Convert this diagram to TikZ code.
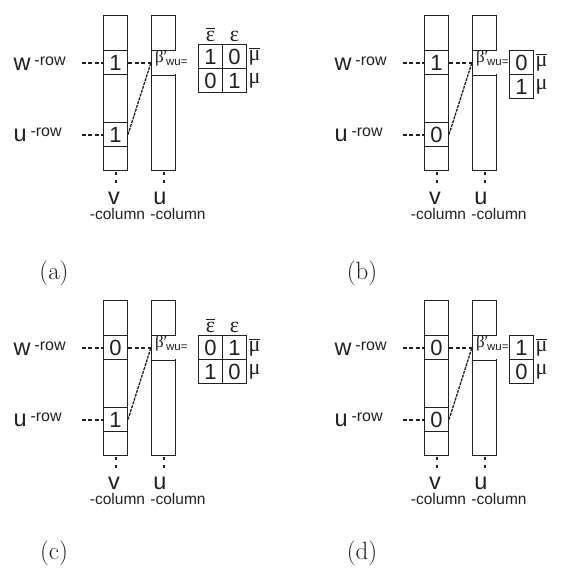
\documentclass[tikz,border=0pt]{standalone}
\usepackage{fontspec}
\newfontfamily\sansf{Liberation Sans}
\newfontfamily\grkf{Liberation Serif}
\usetikzlibrary{calc}
\definecolor{fg}{RGB}{35,31,32}
\newcommand{\letterfont}{\sansf\fontsize{23.5}{26}\selectfont}
\newcommand{\suffont}{\sansf\fontsize{16}{18}\selectfont}
\newcommand{\colfont}{\sansf\fontsize{15.5}{17}\selectfont}
\newcommand{\digfont}{\sansf\fontsize{22}{24}\selectfont}
\newcommand{\grkfont}{\grkf\fontsize{22}{24}\selectfont}
\newcommand{\capfont}{\fontsize{25}{27}\selectfont}
\newcommand{\barred}[1]{\vbox{\hrule height 1.1pt\kern 2pt\hbox{#1}}}
\tikzset{
  every picture/.style={fg, line width=1pt},
  % Spalten und Zellen
  colbox/.style={draw, rectangle, inner sep=0pt, minimum width=24pt, minimum height=155pt},
  cellbox/.style={draw, rectangle, inner sep=0pt, minimum width=24pt, minimum height=24pt, font=\digfont},
  % Linien
  rowdots/.style={line width=2pt, dash pattern=on 4pt off 2.5pt},
  stubdots/.style={line width=2pt, dash pattern=on 3.3pt off 5pt},
  linkdash/.style={line width=1.3pt, dash pattern=on 3pt off 1pt},
  % Beschriftung
  betalbl/.style={fill=white, inner sep=0pt, text height=11.4pt, text depth=11.4pt, anchor=base west},
  lbl/.style={inner sep=0pt, anchor=base west, font=\letterfont},
  grk/.style={inner sep=1pt, font=\grkfont},
}
% ein Teilbild: Spalten v und u, Zeilen w und u
\newcommand{\bitpanel}[2]{%
  \node[colbox] (vcol) at (115.5,93) {};
  \node[colbox] (ucol) at (163.5,93) {};
  \node[cellbox] (wv) at (115.5,62.5) {#1};
  \node[cellbox] (uv) at (115.5,134.5) {#2};
  \node[cellbox, draw=none] (wu) at (163.5,62.5) {};
  \node[betalbl] (beta) at (154.5,62.4) {{\grkf\fontsize{17}{19}\selectfont β′}\kern-1.2pt{\sansf\fontsize{11.5}{13}\selectfont\raisebox{-3pt}{wu=}}};
  \draw (wu.north west) -- (wu.north east) (wu.south west) -- (wu.south east);
  % Zeilen links
  \node[lbl] (wlab) at (13,70.5) {w\hspace{4pt}\raisebox{5pt}{\suffont -row}};
  \node[lbl] (ulab) at (13,141.5) {u\hspace{4pt}\raisebox{5pt}{\suffont -row}};
  \coordinate (wl) at (81.7,62.5);
  \coordinate (ul) at (81.7,134.5);
  \draw[rowdots] (wl) -- (wv.west);
  \draw[rowdots] (ul) -- (uv.west);
  \draw[rowdots] (wv.east) -- (wu.west);
  \draw[linkdash] (uv.east) -- (wu.west);
  % Spalten unten
  \draw[stubdots] ([yshift=-1pt]vcol.south) -- ++(0,11);
  \draw[stubdots] ([yshift=-1pt]ucol.south) -- ++(0,11);
  \node[font=\letterfont] (vname) at (114,198.3) {v};
  \node[font=\colfont, anchor=base] (vsub) at (117.5,219.5) {-column};
  \node[font=\letterfont] (uname) at (160,198.3) {u};
  \node[font=\colfont, anchor=base] (usub) at (178,219.5) {-column};
}
% 2x2-Tabelle, #1 = Oberkante
\newcommand{\pairmat}[5]{%
  \node[cellbox] (m11) at (210.5,{#1+12}) {#2};
  \node[cellbox] (m12) at (234.5,{#1+12}) {#3};
  \node[cellbox] (m21) at (210.5,{#1+36}) {#4};
  \node[cellbox] (m22) at (234.5,{#1+36}) {#5};
  \node[grk, anchor=base] (ebar) at (210.5,{#1-2.7}) {\barred{ε}};
  \node[grk, anchor=base] (eps) at (234.5,{#1-2.7}) {ε};
  \node[grk, anchor=west] (mubar) at (m12.east) {\barred{μ}};
  \node[grk, anchor=west] (mu) at (m22.east) {μ};
}
% 2x1-Tabelle
\newcommand{\singlemat}[3]{%
  \node[cellbox] (m1) at (200.5,{#1+12}) {#2};
  \node[cellbox] (m2) at (200.5,{#1+36}) {#3};
  \node[grk, anchor=west] (mubar) at (m1.east) {\barred{μ}};
  \node[grk, anchor=west] (mu) at (m2.east) {μ};
}

\begin{document}
\begin{tikzpicture}[x=1pt, y=-1pt]
  \useasboundingbox (0,0) rectangle (563,571);
  % (a)
  \begin{scope}[name prefix=a-]
    \bitpanel{1}{1}
    \pairmat{44.5}{1}{0}{0}{1}
  \end{scope}
  % (b)
  \begin{scope}[shift={(321,0)}, name prefix=b-]
    \bitpanel{1}{0}
    \singlemat{50.5}{0}{1}
  \end{scope}
  % (c)
  \begin{scope}[shift={(0,285)}, name prefix=c-]
    \bitpanel{0}{1}
    \pairmat{50.5}{0}{1}{1}{0}
  \end{scope}
  % (d)
  \begin{scope}[shift={(321,285)}, name prefix=d-]
    \bitpanel{0}{0}
    \singlemat{50.5}{1}{0}
  \end{scope}
  % Unterschriften
  \node[font=\capfont] (capa) at (54,273) {(a)};
  \node[font=\capfont] (capb) at (362,273) {(b)};
  \node[font=\capfont] (capc) at (54,553) {(c)};
  \node[font=\capfont] (capd) at (362,553) {(d)};
\end{tikzpicture}
\end{document}
